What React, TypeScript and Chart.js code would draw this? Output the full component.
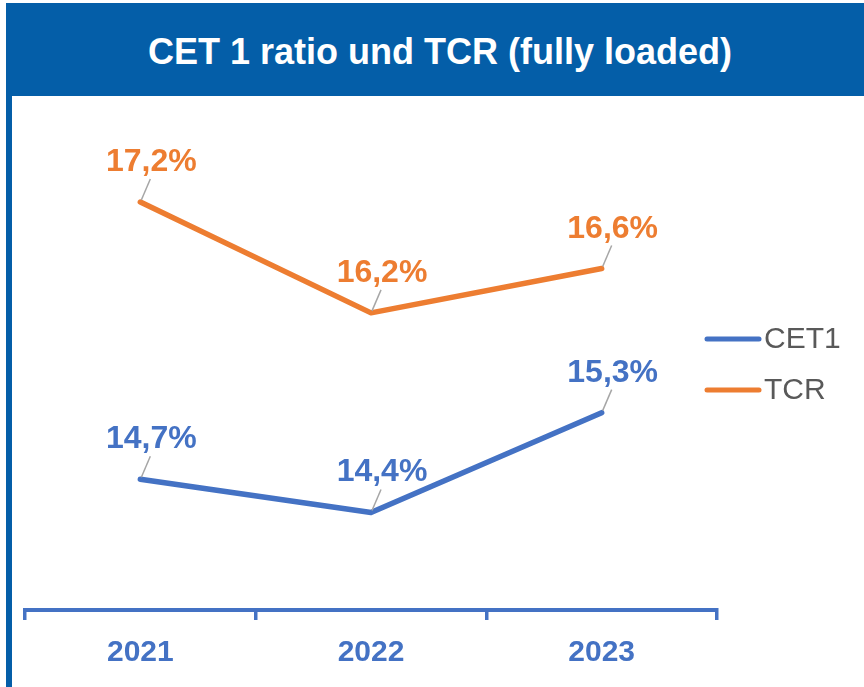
import React, { useEffect, useRef } from "react";
import { Chart, registerables } from "chart.js";

Chart.register(...registerables);

const TITLE = "CET 1 ratio und TCR (fully loaded)";
const YEARS = ["2021", "2022", "2023"];
const CET1 = [14.7, 14.4, 15.3];
const TCR = [17.2, 16.2, 16.6];
const SERIES_NAMES = ["CET1", "TCR"];
const SERIES_COLORS = ["#4472C4", "#ED7D31"];

const FONT = '"Liberation Sans", Arial, sans-serif';
const FRAME = "#045EA8";

const fmt = (v: number) => v.toFixed(1).replace(".", ",") + "%";

const dataLabelPlugin = {
  id: "dataLabels",
  afterDatasetsDraw(chart: any) {
    const ctx = chart.ctx;
    chart.data.datasets.forEach((ds: any, i: number) => {
      const meta = chart.getDatasetMeta(i);
      meta.data.forEach((pt: any, j: number) => {
        const x = pt.x;
        const y = pt.y;
        ctx.save();
        ctx.strokeStyle = "#A6A6A6";
        ctx.lineWidth = 1.5;
        ctx.beginPath();
        ctx.moveTo(x + 1, y - 2);
        ctx.lineTo(x + 10, y - 23);
        ctx.stroke();
        ctx.fillStyle = ds.borderColor;
        ctx.font = `bold 32px ${FONT}`;
        ctx.textAlign = "center";
        ctx.textBaseline = "alphabetic";
        ctx.fillText(fmt(ds.data[j]), x + 11, y - 31);
        ctx.restore();
      });
    });
  },
};

const legendPlugin = {
  id: "customLegend",
  afterDraw(chart: any) {
    const ctx = chart.ctx;
    const ys = [339, 390];
    chart.data.datasets.forEach((ds: any, i: number) => {
      const y = ys[i];
      ctx.save();
      ctx.strokeStyle = ds.borderColor;
      ctx.lineWidth = 5;
      ctx.lineCap = "round";
      ctx.beginPath();
      ctx.moveTo(707, y);
      ctx.lineTo(759, y);
      ctx.stroke();
      ctx.fillStyle = "#595959";
      ctx.font = `30px ${FONT}`;
      ctx.textAlign = "left";
      ctx.textBaseline = "middle";
      ctx.fillText(ds.label, 764, y + 1);
      ctx.restore();
    });
  },
};

export default function App() {
  const canvasRef = useRef<HTMLCanvasElement | null>(null);

  useEffect(() => {
    document.body.style.margin = "0";
    const canvas = canvasRef.current;
    if (!canvas) return;
    const chart = new Chart(canvas, {
      type: "line",
      data: {
        labels: YEARS,
        datasets: [
          {
            label: SERIES_NAMES[0],
            data: CET1,
            borderColor: SERIES_COLORS[0],
            backgroundColor: SERIES_COLORS[0],
            borderWidth: 5.5,
            pointRadius: 0,
            borderCapStyle: "round",
            borderJoinStyle: "round",
            tension: 0,
          },
          {
            label: SERIES_NAMES[1],
            data: TCR,
            borderColor: SERIES_COLORS[1],
            backgroundColor: SERIES_COLORS[1],
            borderWidth: 5.5,
            pointRadius: 0,
            borderCapStyle: "round",
            borderJoinStyle: "round",
            tension: 0,
          },
        ],
      },
      options: {
        animation: false,
        responsive: false,
        maintainAspectRatio: false,
        layout: { padding: { left: 25, right: 147, top: 100, bottom: 0 } },
        plugins: {
          legend: { display: false },
          title: { display: false },
          tooltip: { enabled: false },
        },
        scales: {
          x: {
            offset: true,
            grid: {
              offset: true,
              drawOnChartArea: false,
              drawTicks: true,
              tickLength: 10,
              color: "#4472C4",
              lineWidth: 3.5,
            },
            border: { display: true, color: "#4472C4", width: 4 },
            ticks: {
              color: "#4472C4",
              font: { family: FONT, size: 30, weight: "bold" },
              padding: 15,
            },
            afterFit: (scale: any) => {
              scale.height = 77;
            },
          },
          y: {
            display: false,
            min: 13.52,
            max: 18.12,
          },
        },
      },
      plugins: [dataLabelPlugin, legendPlugin],
    });
    return () => chart.destroy();
  }, []);

  return (
    <div style={{ position: "relative", width: 864, height: 687, overflow: "hidden", background: "#fff" }}>
      <canvas
        ref={canvasRef}
        width={864}
        height={687}
        style={{ position: "absolute", left: 0, top: 0, width: 864, height: 687 }}
      />
      <div
        style={{
          position: "absolute",
          left: 6,
          top: 3,
          width: 858,
          height: 93,
          background: FRAME,
          display: "flex",
          alignItems: "center",
          justifyContent: "center",
          paddingLeft: 10,
          paddingTop: 4,
          boxSizing: "border-box",
          color: "#fff",
          fontFamily: FONT,
          fontWeight: "bold",
          fontSize: 36,
        }}
      >
        {TITLE}
      </div>
      <div
        style={{
          position: "absolute",
          left: 6,
          top: 96,
          width: 6,
          height: 591,
          background: FRAME,
        }}
      />
    </div>
  );
}
